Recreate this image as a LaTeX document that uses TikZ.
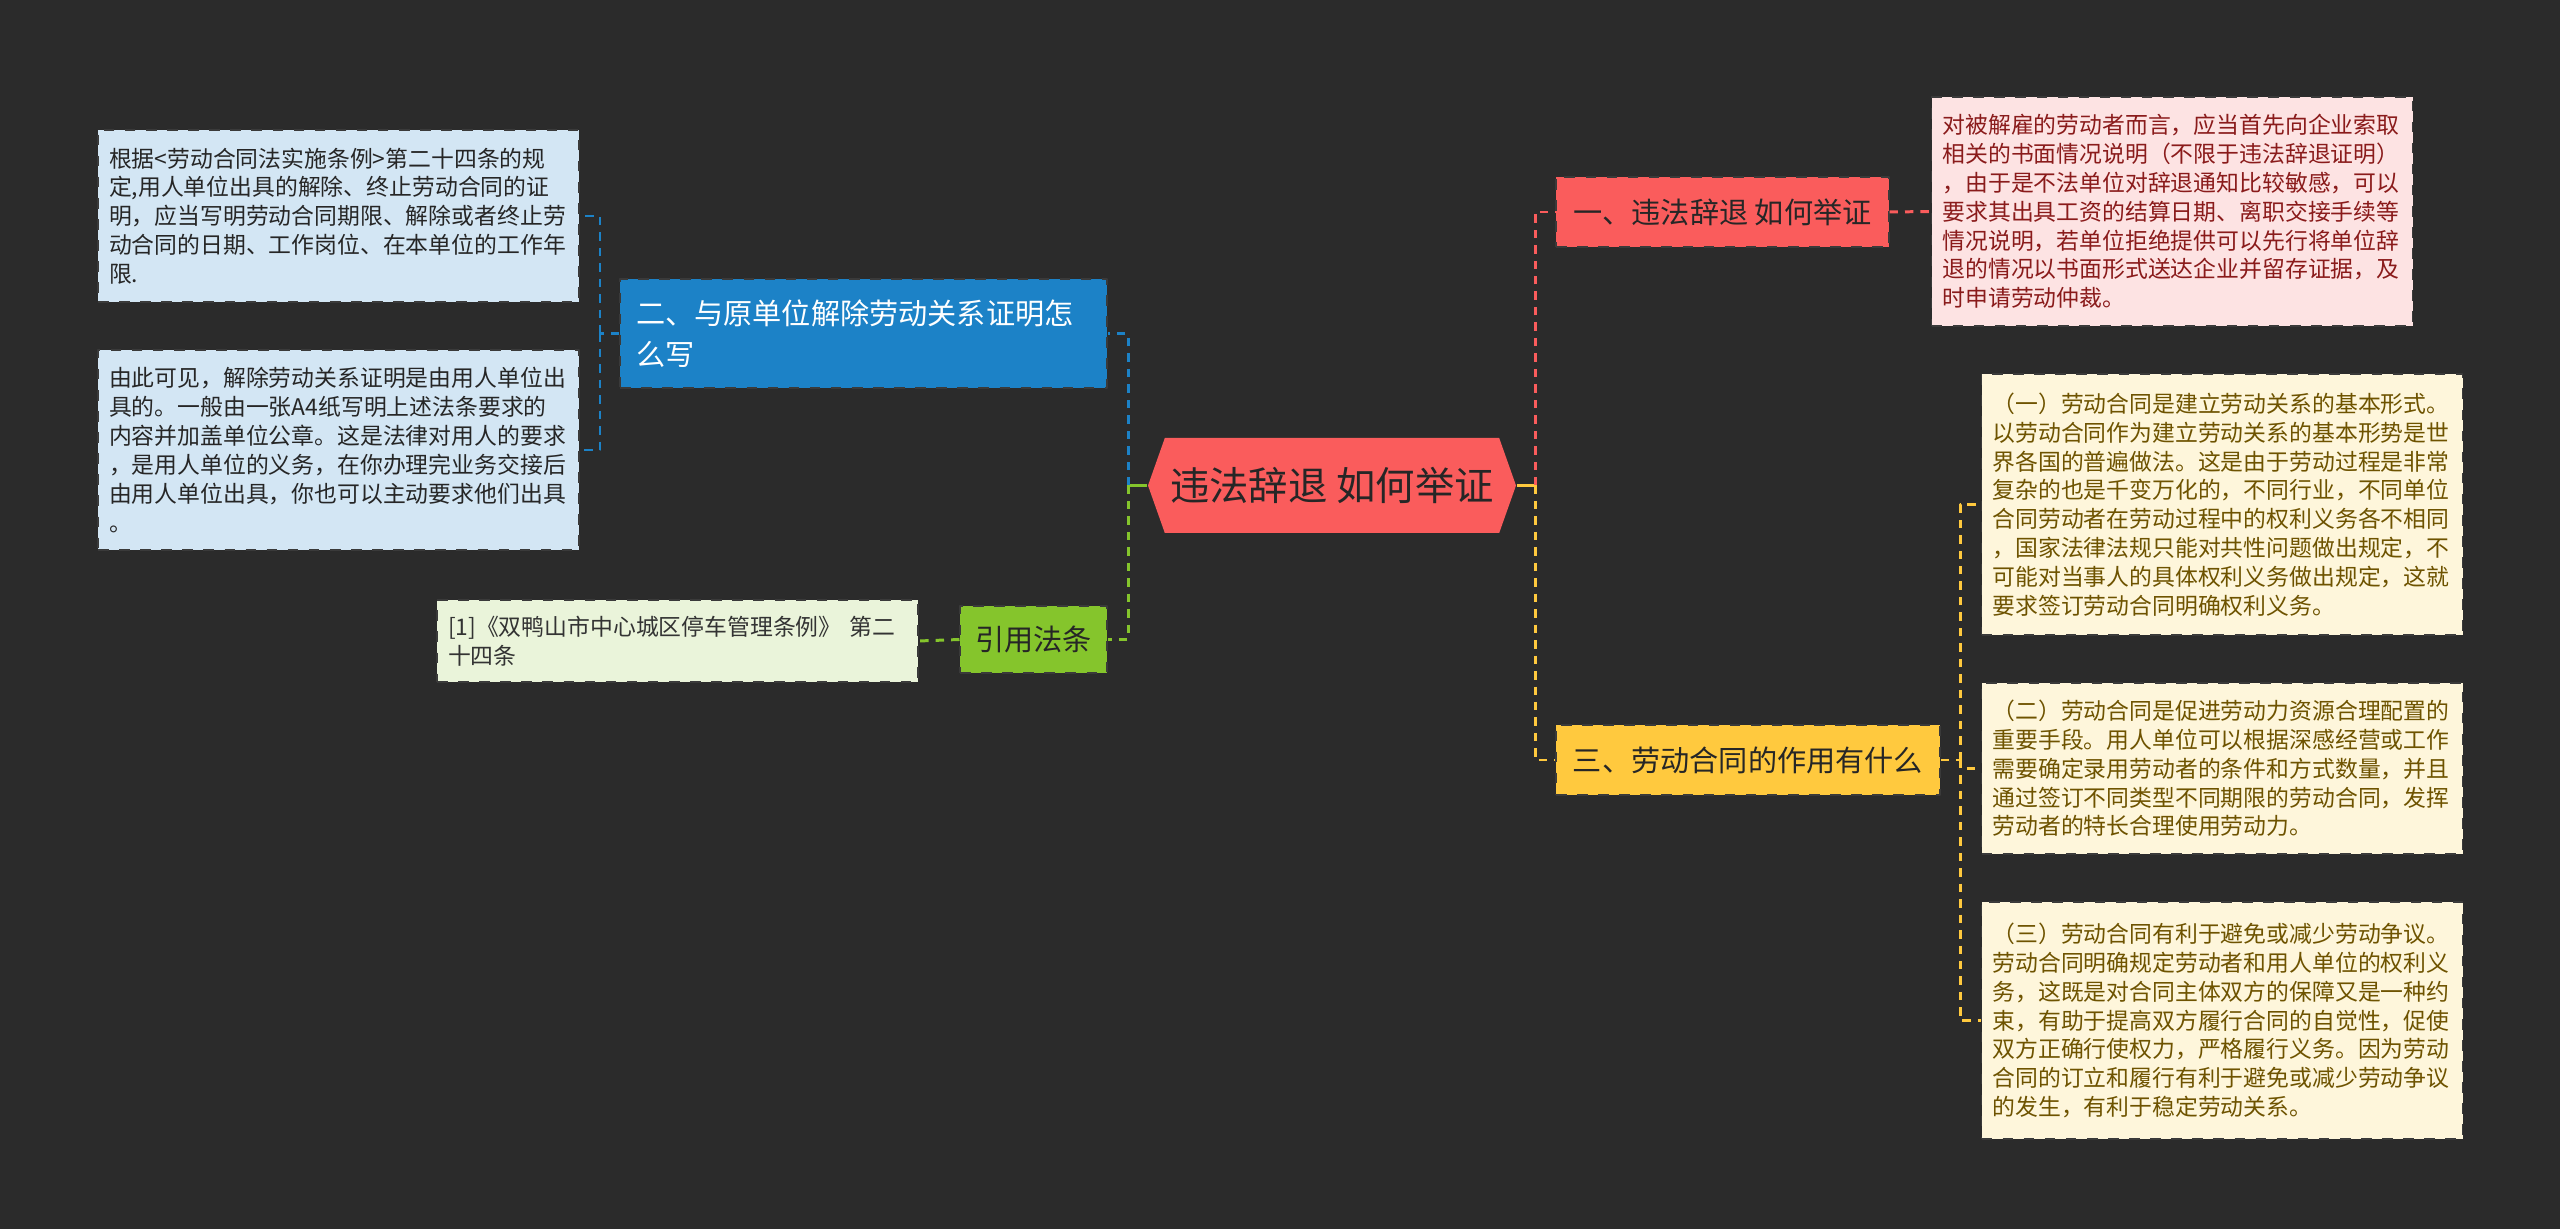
\documentclass[tikz,border=0pt]{standalone}
\usepackage{fontspec}
\setmainfont{Noto Sans CJK SC}
\usetikzlibrary{shapes.symbols}
\definecolor{bgc}{HTML}{2B2B2B}
\definecolor{redc}{HTML}{FA5C5C}
\definecolor{pinkc}{HTML}{FDE3E3}
\definecolor{pinktxt}{HTML}{8A1B1B}
\definecolor{ylwc}{HTML}{FFC93E}
\definecolor{ylwleaf}{HTML}{FEF6DB}
\definecolor{ylwtxt}{HTML}{6E5300}
\definecolor{bluec}{HTML}{1C82C7}
\definecolor{blueleaf}{HTML}{D3E6F4}
\definecolor{grnc}{HTML}{85C52C}
\definecolor{grnleaf}{HTML}{EAF4DA}
\definecolor{boxline}{HTML}{3A3A3A}
\begin{document}
\begin{tikzpicture}[x=0.1mm, y=-0.1mm, line join=round,
	leaf/.style={draw=boxline, dashed, line width=0.3pt, inner xsep=1.1mm, inner ysep=0.6mm, align=left, text width=45.9mm, font=\fontsize{6.5pt}{8.2pt}\selectfont},
	branch/.style={draw=boxline, dashed, line width=0.3pt, inner sep=0pt, text=black!85, minimum height=7mm, font=\fontsize{8.3pt}{11.8pt}\selectfont},
	link/.style={line width=0.85pt, dash pattern=on 2.4pt off 2pt}]
				\fill[bgc] (0,0) rectangle (2560,1229);
				\useasboundingbox (0,0) rectangle (2560,1229);
				\node[signal, signal to=west and east, signal pointer angle=141, fill=redc, minimum width=36.8mm, minimum height=9.5mm, inner sep=0pt, text=black!85, font=\fontsize{11.2pt}{13pt}\selectfont] (root) at (1332,485.5) {违法辞退 如何举证};
				\node[branch, fill=redc, minimum width=33.3mm] (b1) at (1722.5,212) {一、违法辞退 如何举证};
				\node[branch, fill=bluec, text=white, align=left, text width=45.5mm, inner xsep=1.6mm, minimum height=10.9mm] (b2) at (863.5,333.5) {二、与原单位解除劳动关系证明怎\\么写};
				\node[branch, fill=ylwc, minimum width=38.4mm] (b3) at (1748,760) {三、劳动合同的作用有什么};
				\node[branch, fill=grnc, minimum width=14.7mm, minimum height=6.7mm] (b4) at (1033.5,639.5) {引用法条};
				\node[leaf, fill=pinkc, text=pinktxt, minimum height=22.9mm] (l1) at (2172,211.5) {对被解雇的劳动者而言，应当首先向企业索取\\相关的书面情况说明（不限于违法辞退证明）\\，由于是不法单位对辞退通知比较敏感，可以\\要求其出具工资的结算日期、离职交接手续等\\情况说明，若单位拒绝提供可以先行将单位辞\\退的情况以书面形式送达企业并留存证据，及\\时申请劳动仲裁。};
				\node[leaf, fill=blueleaf, text=black!85, minimum height=17.2mm] (l21) at (338.5,216) {根据<劳动合同法实施条例>第二十四条的规\\定,用人单位出具的解除、终止劳动合同的证\\明，应当写明劳动合同期限、解除或者终止劳\\动合同的日期、工作岗位、在本单位的工作年\\限.};
				\node[leaf, fill=blueleaf, text=black!85, minimum height=20mm] (l22) at (338.5,450) {由此可见，解除劳动关系证明是由用人单位出\\具的。一般由一张A4纸写明上述法条要求的\\内容并加盖单位公章。这是法律对用人的要求\\，是用人单位的义务，在你办理完业务交接后\\由用人单位出具，你也可以主动要求他们出具\\。};
				\node[leaf, fill=ylwleaf, text=ylwtxt, minimum height=26.1mm] (l31) at (2222,504.5) {（一）劳动合同是建立劳动关系的基本形式。\\以劳动合同作为建立劳动关系的基本形势是世\\界各国的普遍做法。这是由于劳动过程是非常\\复杂的也是千变万化的，不同行业，不同单位\\合同劳动者在劳动过程中的权利义务各不相同\\，国家法律法规只能对共性问题做出规定，不\\可能对当事人的具体权利义务做出规定，这就\\要求签订劳动合同明确权利义务。};
				\node[leaf, fill=ylwleaf, text=ylwtxt, minimum height=17.1mm] (l32) at (2222,768.5) {（二）劳动合同是促进劳动力资源合理配置的\\重要手段。用人单位可以根据深感经营或工作\\需要确定录用劳动者的条件和方式数量，并且\\通过签订不同类型不同期限的劳动合同，发挥\\劳动者的特长合理使用劳动力。};
				\node[leaf, fill=ylwleaf, text=ylwtxt, minimum height=23.7mm] (l33) at (2222,1020.5) {（三）劳动合同有利于避免或减少劳动争议。\\劳动合同明确规定劳动者和用人单位的权利义\\务，这既是对合同主体双方的保障又是一种约\\束，有助于提高双方履行合同的自觉性，促使\\双方正确行使权力，严格履行义务。因为劳动\\合同的订立和履行有利于避免或减少劳动争议\\的发生，有利于稳定劳动关系。};
				\node[leaf, fill=grnleaf, text=black!80, minimum height=8.2mm] (l4) at (677.5,641) {[1]《双鸭山市中心城区停车管理条例》 第二\\十四条};
				\coordinate (jl) at (1128,485.5);\coordinate (jr) at (1535,485.5);
				\coordinate (jb) at (600,333.5);\coordinate (jy) at (1960,760);
				\draw[grnc, line width=0.85pt] (root.west)--(jl);
				\draw[ylwc, line width=0.85pt] (root.east)--(jr);
				\draw[link, bluec] (jl) |- (b2.east);
				\draw[link, grnc] (jl) |- (b4.east);
				\draw[link, redc] (jr) |- (b1.west);
				\draw[link, ylwc] (jr) |- (b3.west);
				\draw[link, redc] (b1.east)--(l1.west);
				\draw[link, grnc] (b4.west)--(l4.east);
				\draw[link, bluec] (b2.west)--(jb);
				\foreach \n in {l21,l22}\draw[link, bluec] (jb) |- (\n.east);
				\draw[link, ylwc] (b3.east)--(jy);
				\foreach \n in {l31,l32,l33}\draw[link, ylwc] (jy) |- (\n.west);
	\end{tikzpicture}
\end{document}
